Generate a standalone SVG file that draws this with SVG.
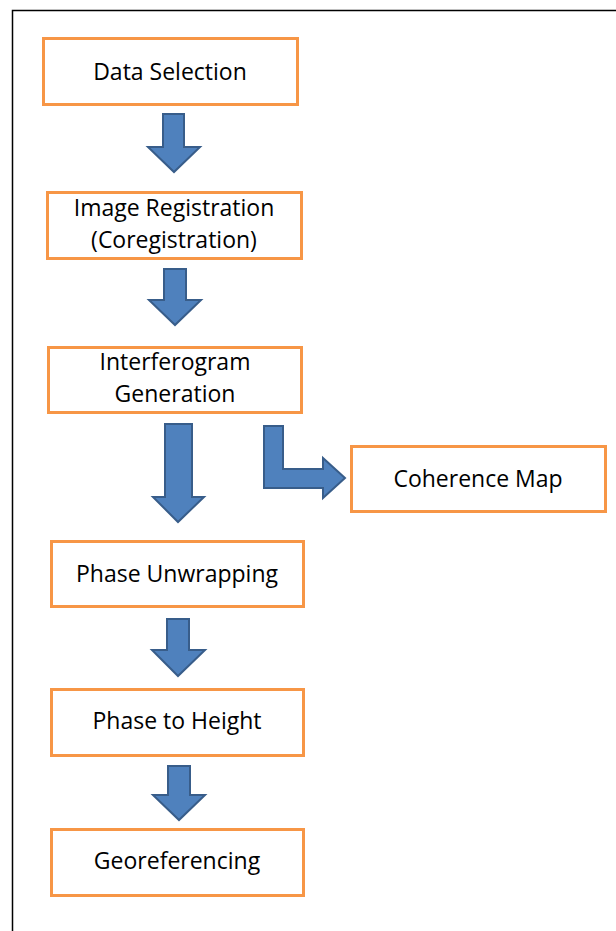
<svg xmlns="http://www.w3.org/2000/svg" width="616" height="931" viewBox="0 0 616 931">
<style>
.box{fill:#fff;stroke:#F79646;stroke-width:3}
.arr{fill:#4F81BD;stroke:#385D8A;stroke-width:2;stroke-linejoin:miter}
.t{font-family:"Open Sans","Liberation Sans",sans-serif;font-size:23px;fill:#000;text-anchor:middle}
</style>
<rect x="0" y="0" width="616" height="931" fill="#fff"/>
<path d="M12.5,940 V10.5 H630" fill="none" stroke="#000" stroke-width="1.5"/>
<g id="connectors">
<path class="arr" d="M163,114 H184 V147 H200 L174,172 L148,147 H163 Z"/>
<path class="arr" d="M164,269 H186 V300 H201 L175,325 L149,300 H164 Z"/>
<path class="arr" d="M165,424 H192 V497 H204 L178,522 L153,497 H165 Z"/>
<path class="arr" d="M264,426 H283 V469 H323 V458 L345,478 L323,498 V488 H264 Z"/>
<path class="arr" d="M167,619 H189 V650 H205 L178,676 L152,650 H167 Z"/>
<path class="arr" d="M168,766 H190 V795 H205 L179,820 L153,795 H168 Z"/>
</g>
<g id="n1"><rect class="box" x="43.5" y="38.5" width="254" height="66"/><text class="t" x="170" y="80">Data Selection</text></g>
<g id="n2"><rect class="box" x="47.5" y="192.5" width="254" height="66"/><text class="t" x="174" y="216">Image Registration</text><text class="t" x="174" y="248">(Coregistration)</text></g>
<g id="n3"><rect class="box" x="48.5" y="347.5" width="253" height="65"/><text class="t" x="175" y="370">Interferogram</text><text class="t" x="175" y="402">Generation</text></g>
<g id="n4"><rect class="box" x="351.5" y="446.5" width="254" height="65"/><text class="t" x="478" y="487">Coherence Map</text></g>
<g id="n5"><rect class="box" x="51.5" y="541.5" width="252" height="65"/><text class="t" x="177" y="582">Phase Unwrapping</text></g>
<g id="n6"><rect class="box" x="51.5" y="689.5" width="252" height="66"/><text class="t" x="177" y="729">Phase to Height</text></g>
<g id="n7"><rect class="box" x="51.5" y="829.5" width="252" height="66"/><text class="t" x="177" y="869">Georeferencing</text></g>
</svg>
